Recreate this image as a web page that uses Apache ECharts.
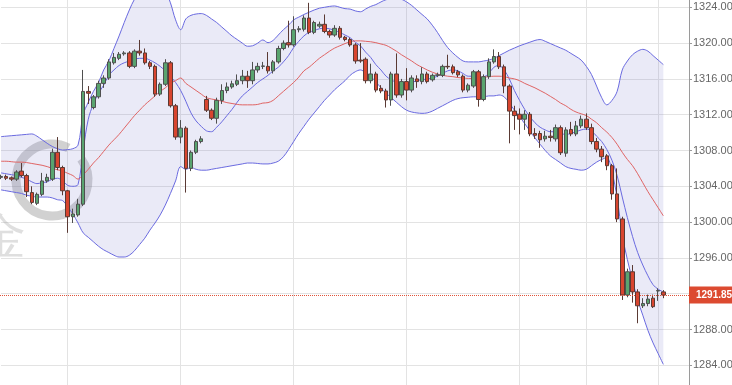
<!DOCTYPE html>
<html><head><meta charset="utf-8">
<script src="https://cdn.jsdelivr.net/npm/echarts@6/dist/echarts.min.js"></script>
<style>html,body{margin:0;padding:0;background:#fff}#c{width:732px;height:385px}</style>
</head><body><div id="c"></div>
<script>
const categories = Array.from({length: 135}, (_, i) => 'K' + i);
const openV = [1305.0,1305.1,1304.95,1304.8,1305.7,1305.2,1303.3,1302.1,1303.1,1304.6,
1304.8,1307.8,1306.1,1303.5,1300.6,1300.8,1302.0,1314.6,1312.8,1314.0,
1315.5,1316.1,1317.8,1318.3,1318.8,1318.9,1317.4,1319.1,1318.9,1317.8,
1317.4,1314.3,1315.4,1317.8,1313.0,1309.5,1310.5,1306.0,1307.8,1309.0,
1313.7,1312.5,1311.6,1313.6,1314.7,1315.1,1315.4,1315.8,1316.3,1315.8,
1317.0,1317.4,1317.4,1316.9,1317.9,1319.4,1320.05,1319.8,1321.5,1321.55,
1322.8,1321.2,1321.9,1322.1,1321.3,1320.9,1321.65,1320.65,1320.4,1319.8,
1318.1,1318.2,1315.8,1316.55,1314.95,1314.65,1313.65,1316.55,1314.2,1315.7,
1314.75,1316.0,1315.7,1316.55,1315.9,1316.4,1316.4,1317.4,1317.35,1316.8,
1316.3,1314.75,1315.2,1316.8,1313.7,1316.25,1317.9,1318.5,1317.35,1315.2,
1312.4,1312.05,1311.5,1312.05,1309.9,1309.9,1309.3,1309.6,1309.3,1310.55,
1307.7,1310.35,1309.85,1310.75,1311.5,1310.55,1309.0,1308.15,1307.4,1306.3,
1303.15,1300.35,1291.85,1294.45,1292.2,1290.65,1290.9,1291.5,1292.3,1292.2];
const closeV = [1305.1,1304.9,1304.8,1305.6,1305.2,1303.4,1302.2,1303.1,1304.6,1305.0,
1307.8,1306.1,1303.5,1300.6,1300.9,1302.0,1314.6,1314.4,1314.0,1315.5,
1316.1,1317.9,1318.4,1318.75,1318.9,1317.4,1319.1,1318.9,1317.8,1317.4,
1314.3,1315.4,1317.8,1313.0,1309.5,1310.5,1306.0,1307.8,1309.0,1309.3,
1312.5,1311.6,1313.6,1314.7,1315.1,1315.45,1315.8,1316.3,1315.8,1317.0,
1317.4,1317.45,1316.9,1317.9,1319.4,1320.0,1319.8,1321.5,1321.6,1322.8,
1321.2,1322.3,1322.1,1321.3,1320.9,1321.65,1320.65,1320.4,1319.8,1318.0,
1318.0,1315.8,1316.55,1314.75,1314.65,1313.65,1316.55,1314.2,1315.7,1314.75,
1316.1,1315.7,1316.55,1315.7,1316.4,1316.45,1317.4,1317.35,1316.7,1316.45,
1314.75,1315.3,1316.8,1313.7,1316.25,1317.9,1318.5,1317.35,1315.2,1312.4,
1311.9,1311.5,1312.05,1309.85,1309.7,1309.2,1309.6,1309.45,1310.55,1307.75,
1310.3,1309.85,1310.75,1311.5,1310.55,1309.0,1308.15,1307.3,1306.3,1303.15,
1300.35,1291.85,1294.45,1292.2,1290.65,1290.9,1291.4,1290.55,1292.35,1291.85];
const lowV = [1304.8,1304.7,1304.6,1304.6,1305.0,1302.8,1302.0,1301.9,1302.9,1304.4,
1304.6,1305.8,1303.0,1298.8,1299.9,1300.6,1301.8,1313.2,1312.6,1313.8,
1315.0,1315.9,1317.6,1318.1,1318.6,1317.2,1317.2,1318.6,1317.6,1317.1,
1314.0,1314.1,1315.2,1312.8,1309.2,1308.8,1303.3,1305.7,1307.6,1308.8,
1312.3,1311.4,1311.0,1313.2,1314.4,1314.9,1315.2,1315.4,1315.0,1315.4,
1316.7,1317.1,1316.6,1316.6,1317.7,1319.2,1319.5,1319.6,1321.2,1321.3,
1321.0,1321.0,1321.7,1321.1,1320.6,1320.7,1320.4,1320.2,1319.6,1317.7,
1317.8,1315.5,1315.5,1314.5,1314.4,1312.8,1313.0,1313.9,1313.9,1313.6,
1314.5,1315.0,1315.4,1315.5,1315.7,1316.2,1316.2,1317.1,1316.5,1316.2,
1314.5,1314.5,1315.0,1312.9,1313.5,1316.0,1317.7,1317.1,1314.4,1308.8,
1310.3,1309.8,1310.3,1309.6,1309.3,1308.3,1309.0,1309.0,1309.0,1307.5,
1307.3,1309.6,1309.6,1310.5,1310.3,1308.7,1307.8,1306.7,1305.8,1302.5,
1300.0,1291.3,1291.6,1291.0,1288.7,1290.4,1290.6,1290.4,1291.2,1291.5];
const highV = [1305.3,1305.3,1305.1,1305.8,1306.6,1305.4,1304.0,1303.3,1305.5,1305.4,
1308.2,1309.5,1306.3,1303.6,1301.5,1302.6,1317.0,1315.2,1314.2,1315.8,
1316.4,1318.2,1318.9,1319.0,1319.1,1319.1,1319.3,1320.35,1319.4,1318.0,
1317.6,1315.6,1318.2,1318.0,1313.2,1311.4,1310.7,1308.0,1309.2,1309.6,
1314.1,1312.7,1313.9,1315.4,1315.6,1315.8,1316.5,1317.0,1316.9,1317.9,
1317.8,1317.9,1319.0,1318.1,1319.7,1320.3,1322.5,1323.0,1321.9,1323.1,
1324.5,1322.5,1322.4,1323.2,1321.5,1322.0,1321.9,1320.8,1320.6,1320.0,
1320.0,1318.4,1317.7,1316.8,1315.3,1314.9,1316.8,1318.85,1316.0,1317.2,
1316.4,1316.4,1317.3,1316.8,1316.6,1316.7,1317.6,1318.7,1317.6,1317.0,
1316.5,1315.5,1317.0,1317.0,1316.5,1318.3,1319.3,1319.0,1317.6,1315.4,
1313.0,1312.7,1312.5,1312.3,1310.5,1310.2,1310.2,1310.3,1310.9,1310.8,
1310.6,1311.2,1311.3,1311.9,1312.15,1311.0,1309.4,1308.5,1307.6,1306.5,
1306.0,1300.6,1294.8,1295.2,1292.5,1291.5,1291.9,1291.9,1292.6,1292.4];
const upperBand = [1309.55,1309.6,1309.65,1309.7,1309.75,1309.8,1309.85,1309.6,1309.2,1308.8,
1308.45,1308.2,1308.05,1308.1,1308.2,1308.6,1312.0,1313.4,1314.6,1315.6,
1317.0,1318.0,1319.4,1320.8,1322.3,1323.7,1324.9,1325.6,1326.2,1326.5,
1326.5,1326.3,1325.8,1324.5,1322.6,1321.5,1322.7,1323.1,1323.25,1323.3,
1323.1,1322.7,1322.3,1321.8,1321.3,1320.8,1320.4,1320.0,1319.65,1319.7,
1320.0,1320.35,1320.05,1320.3,1320.9,1321.5,1322.0,1322.6,1322.9,1323.2,
1323.45,1323.7,1323.9,1324.0,1324.1,1324.15,1324.0,1323.85,1323.8,1323.6,
1323.5,1323.8,1324.1,1324.3,1324.6,1324.85,1324.95,1325.0,1324.9,1324.6,
1324.2,1323.7,1323.2,1322.7,1322.0,1321.2,1320.3,1319.5,1318.9,1318.4,
1318.0,1317.9,1317.9,1317.9,1318.0,1318.1,1318.3,1318.6,1318.9,1319.2,
1319.45,1319.7,1319.9,1320.1,1320.3,1320.4,1320.2,1319.95,1319.7,1319.45,
1319.2,1318.85,1318.5,1318.1,1317.4,1316.5,1315.2,1313.9,1313.1,1313.6,
1314.6,1317.0,1318.0,1318.7,1319.1,1319.3,1319.1,1318.6,1318.1,1317.6];
const middleBand = [1306.8,1306.8,1306.75,1306.7,1306.7,1306.65,1306.55,1306.45,1306.35,1306.2,
1306.0,1305.85,1305.7,1305.45,1305.2,1304.8,1305.3,1305.9,1306.6,1307.2,
1307.9,1308.6,1309.2,1309.8,1310.5,1311.2,1311.9,1312.5,1313.1,1313.6,
1314.1,1314.6,1315.0,1315.5,1315.8,1316.1,1315.5,1315.1,1314.7,1314.3,
1313.9,1313.75,1313.65,1313.5,1313.35,1313.25,1313.15,1313.1,1313.1,1313.1,
1313.15,1313.3,1313.35,1313.6,1314.1,1314.6,1315.1,1315.6,1316.2,1316.9,
1317.3,1317.8,1318.3,1318.7,1319.1,1319.45,1319.7,1319.95,1320.15,1320.25,
1320.25,1320.2,1320.15,1320.05,1319.9,1319.75,1319.45,1319.1,1318.7,1318.35,
1318.0,1317.6,1317.3,1317.0,1316.75,1316.55,1316.4,1316.3,1316.25,1316.15,
1316.1,1316.05,1316.05,1316.1,1316.2,1316.25,1316.3,1316.3,1316.25,1316.1,
1316.0,1315.8,1315.5,1315.25,1315.0,1314.7,1314.4,1314.05,1313.7,1313.3,
1313.0,1312.6,1312.3,1312.1,1311.9,1311.5,1311.1,1310.55,1310.05,1309.45,
1308.7,1307.8,1307.0,1306.3,1305.4,1304.4,1303.4,1302.5,1301.6,1300.7];
const lowerBand = [1303.6,1303.5,1303.4,1303.3,1303.2,1303.0,1302.9,1302.8,1302.8,1302.8,
1302.7,1302.5,1302.4,1301.7,1300.9,1299.9,1298.8,1298.3,1297.8,1297.3,
1296.9,1296.6,1296.3,1296.1,1296.1,1296.3,1296.8,1297.5,1298.2,1299.1,
1299.9,1300.8,1301.9,1303.2,1304.6,1306.2,1305.9,1306.1,1305.9,1305.8,
1305.8,1305.9,1306.0,1306.1,1306.2,1306.3,1306.4,1306.5,1306.6,1306.6,
1306.55,1306.5,1306.5,1306.6,1306.8,1307.3,1308.1,1309.0,1309.9,1310.7,
1311.5,1312.2,1312.9,1313.6,1314.2,1314.8,1315.3,1315.8,1316.4,1316.8,
1317.0,1316.7,1316.3,1315.7,1315.0,1314.4,1313.9,1313.4,1312.9,1312.5,
1312.3,1312.2,1312.15,1312.2,1312.4,1312.7,1313.0,1313.3,1313.6,1313.8,
1313.9,1313.95,1314.0,1314.0,1314.0,1314.1,1314.1,1314.2,1314.0,1313.3,
1312.5,1311.8,1311.0,1310.2,1309.4,1308.7,1308.0,1307.4,1307.0,1306.6,
1306.2,1306.0,1305.9,1305.8,1305.9,1306.3,1306.7,1307.0,1307.2,1305.6,
1302.7,1298.6,1295.8,1293.5,1291.3,1289.6,1287.9,1286.5,1285.3,1284.1];
const fastLine = [1305.5,1305.4,1305.3,1305.2,1305.0,1304.8,1304.5,1304.3,1304.4,1304.5,
1304.8,1304.9,1304.6,1304.1,1304.0,1304.2,1308.0,1311.5,1313.2,1314.4,
1315.3,1316.4,1317.0,1317.5,1317.8,1318.0,1318.2,1318.3,1318.3,1318.1,
1317.8,1317.4,1316.9,1316.3,1315.6,1314.7,1313.5,1312.2,1311.3,1310.7,
1310.2,1310.1,1310.6,1311.2,1311.9,1312.6,1313.4,1314.1,1314.6,1315.1,
1315.6,1316.0,1316.4,1316.9,1317.3,1317.9,1318.6,1319.5,1320.2,1320.8,
1321.2,1321.4,1321.6,1321.65,1321.6,1321.4,1321.2,1320.9,1320.6,1320.1,
1319.7,1319.0,1318.4,1317.6,1317.0,1316.3,1315.9,1315.6,1315.3,1315.5,
1315.6,1315.8,1315.9,1316.0,1316.1,1316.3,1316.6,1316.9,1317.0,1316.9,
1316.6,1316.3,1316.3,1316.1,1316.2,1316.6,1317.3,1317.5,1317.0,1316.0,
1314.7,1313.6,1312.6,1311.8,1311.1,1310.6,1310.3,1310.1,1310.1,1309.9,
1309.8,1309.9,1310.1,1310.3,1310.4,1310.2,1309.6,1309.0,1308.1,1306.9,
1305.2,1302.8,1300.5,1298.4,1296.6,1295.2,1294.0,1293.0,1292.5,1292.2];
const lastPrice = 1291.85;
const yMin = 1280, yMax = 1328, yStep = 4;
const vGridIdx = [13, 35, 57, 79, 101, 114, 128];

const candleData = openV.map((o, i) => [o, closeV[i], lowV[i], highV[i]]);
const bandWidth = upperBand.map((u, i) => +(u - lowerBand[i]).toFixed(3));

const chart = echarts.init(document.getElementById('c'), null, {renderer: 'canvas'});
const blue = '#6a6ae0';
const red = '#d8452f';
const lineCommon = {type: 'line', symbol: 'none', smooth: 0.35, silent: true, z: 2};
chart.setOption({
  animation: false,
  backgroundColor: '#fff',
  textStyle: {fontFamily: 'Liberation Sans, Arial, sans-serif'},
  grid: {left: 1, right: 43, top: -28.5, bottom: -16.1, containLabel: false, outerBoundsMode: 'none'},
  xAxis: {
    type: 'category', data: categories, boundaryGap: false,
    axisLine: {show: false}, axisTick: {show: false}, axisLabel: {show: false},
    splitLine: {show: true, interval: (i) => vGridIdx.includes(i), lineStyle: {color: '#e3e3e3', width: 1}}
  },
  yAxis: {
    type: 'value', position: 'right', min: yMin, max: yMax, interval: yStep,
    axisLine: {show: true, lineStyle: {color: '#9a9a9a'}},
    axisTick: {show: true, length: 3, lineStyle: {color: '#9a9a9a'}},
    axisLabel: {color: '#666', fontSize: 11, margin: 4, formatter: (v) => v.toFixed(2)},
    splitLine: {show: true, lineStyle: {color: '#e3e3e3', width: 1}}
  },
  series: [
    Object.assign({}, lineCommon, {name: 'lbBase', data: lowerBand, stack: 'band', lineStyle: {opacity: 0}, z: 1}),
    Object.assign({}, lineCommon, {name: 'bandFill', data: bandWidth, stack: 'band', lineStyle: {opacity: 0}, areaStyle: {color: 'rgba(120,120,200,0.22)'}, z: 1}),
    Object.assign({}, lineCommon, {name: 'upper', data: upperBand, lineStyle: {color: blue, width: 1}}),
    Object.assign({}, lineCommon, {name: 'lower', data: lowerBand, lineStyle: {color: blue, width: 1}}),
    Object.assign({}, lineCommon, {name: 'fast', data: fastLine, lineStyle: {color: blue, width: 1}}),
    Object.assign({}, lineCommon, {name: 'middle', data: middleBand, lineStyle: {color: '#e06464', width: 1}}),
    {
      type: 'candlestick', name: 'price', data: candleData, barWidth: 4, z: 5,
      itemStyle: {color: '#59a46f', color0: red, borderColor: '#4f4f4f', borderColor0: '#5a3a34', borderWidth: 1}
    }
  ]
});

// price line + label placed through the chart's own scale
const gridRect = chart.getModel().getComponent('grid', 0).coordinateSystem.getRect();
const py = Math.round(chart.convertToPixel({yAxisIndex: 0}, lastPrice)) + 0.5;
const axisX = gridRect.x + gridRect.width;
chart.setOption({
  graphic: [
    {type: 'arc', shape: {cx: 52, cy: 180, r: 36, startAngle: -Math.PI * 0.2, endAngle: Math.PI * 1.65}, style: {stroke: 'rgba(140,140,140,0.4)', lineWidth: 9, fill: null}, z: 0, silent: true},
    {type: 'text', left: -24, top: 214, style: {text: '金', fontSize: 50, fill: 'rgba(150,150,150,0.3)', font: '50px "Noto Sans CJK SC"'}, z: 0, silent: true},
    {type: 'line', shape: {x1: 0, y1: py, x2: axisX, y2: py}, style: {stroke: '#e0533a', lineWidth: 1, lineDash: [1, 1]}, z: 10, silent: true},
    {type: 'rect', shape: {x: axisX, y: py - 9, width: 60, height: 17}, style: {fill: '#dc4a30'}, z: 10, silent: true},
    {type: 'text', x: axisX + 7, y: py, style: {text: lastPrice.toFixed(2), fill: '#fff', font: 'bold 10px "Liberation Sans", Arial, sans-serif', verticalAlign: 'middle', textAlign: 'left'}, z: 11, silent: true}
  ]
});
</script></body></html>
